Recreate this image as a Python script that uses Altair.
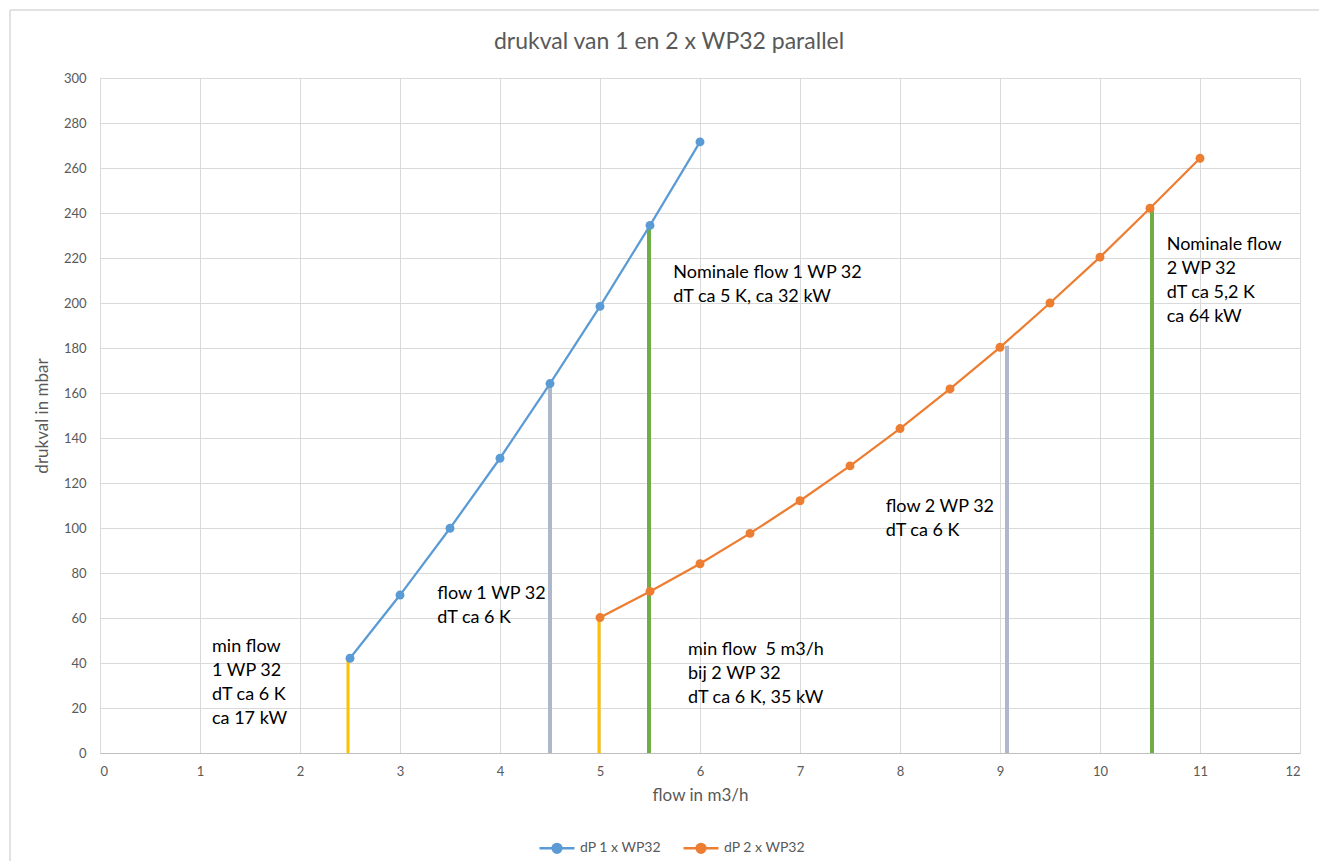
import altair as alt
import pandas as pd

# ---- data ----
flow_1 = [2.5, 3, 3.5, 4, 4.5, 5, 5.5, 6]
dp_1 = [42.1, 70.2, 99.9, 131, 164.2, 198.5, 234.5, 271.6]

flow_2 = [5, 5.5, 6, 6.5, 7, 7.5, 8, 8.5, 9, 9.5, 10, 10.5, 11]
dp_2 = [60.2, 71.8, 84.1, 97.6, 112.1, 127.6, 144.2, 161.8, 180.3, 200, 220.4, 242.1, 264.3]

series_names = ["dP 1 x WP32", "dP 2 x WP32"]

# vertical marker lines (flow, top value)
min_x = [2.48, 4.99]
min_top = [42.1, 60.2]
flowline_x = [4.5, 9.07]
flowline_top = [164.2, 181]
nom_x = [5.49, 10.52]
nom_top = [234.5, 242.1]

# annotations (left x, top of first line, text)
ann_x = [1.12, 3.373, 5.733, 5.88, 7.857, 10.667]
ann_y = [51.2, 74.7, 217.2, 49.8, 113.5, 229.8]
ann_text = [
    "min flow\n1 WP 32\ndT ca 6 K\nca 17 kW",
    "flow 1 WP 32\ndT ca 6 K",
    "Nominale flow 1 WP 32\ndT ca 5 K, ca 32 kW",
    "min flow \u00a05 m3/h\nbij 2 WP 32\ndT ca 6 K, 35 kW",
    "flow 2 WP 32\ndT ca 6 K",
    "Nominale flow\n2 WP 32\ndT ca 5,2 K\nca 64 kW",
]

FONT = "Lato"
GREY_TXT = "#595959"

lines_df = pd.DataFrame(
    {
        "flow": flow_1 + flow_2,
        "dp": dp_1 + dp_2,
        "serie": [series_names[0]] * len(flow_1) + [series_names[1]] * len(flow_2),
    }
)
min_df = pd.DataFrame({"flow": min_x, "top": min_top})
fl_df = pd.DataFrame({"flow": flowline_x, "top": flowline_top})
nom_df = pd.DataFrame({"flow": nom_x, "top": nom_top})
ann_df = pd.DataFrame({"x": ann_x, "y": ann_y, "t": ann_text})

x_scale = alt.Scale(domain=[0, 12], nice=False)
y_scale = alt.Scale(domain=[0, 300], nice=False)

x_axis = alt.Axis(
    title="flow in m3/h",
    values=list(range(0, 13)),
    format="d",
    grid=True,
    gridColor="#d9d9d9",
    ticks=False,
    domainColor="#bfbfbf",
    domainWidth=1,
    labelPadding=12,
    labelFontSize=13,
    labelColor=GREY_TXT,
    labelFont=FONT,
    titleFont=FONT,
    titleFontSize=17,
    titleFontWeight="normal",
    titleColor=GREY_TXT,
    titlePadding=9,
)
y_axis = alt.Axis(
    title="drukval in mbar",
    values=list(range(0, 301, 20)),
    format="d",
    grid=True,
    gridColor="#d9d9d9",
    ticks=False,
    domain=False,
    labelPadding=14,
    labelFontSize=13,
    labelColor=GREY_TXT,
    labelFont=FONT,
    titleFont=FONT,
    titleFontSize=17,
    titleFontWeight="normal",
    titleColor=GREY_TXT,
    titlePadding=12,
)

color_scale = alt.Scale(domain=series_names, range=["#5B9BD5", "#ED7D31"])

legend_symbol = (
    "M-1,0H1"
    "M0.25,0A0.25,0.25,0,1,1,-0.25,0A0.25,0.25,0,1,1,0.25,0"
    "M0.16,0A0.16,0.16,0,1,1,-0.16,0A0.16,0.16,0,1,1,0.16,0"
    "M0.07,0A0.07,0.07,0,1,1,-0.07,0A0.07,0.07,0,1,1,0.07,0"
)

frame_src = alt.Chart(alt.Data(values=[{"a": 1}]))
frame_top = frame_src.mark_rule(color="#d9d9d9", strokeWidth=1.5).encode(
    x=alt.value(-90), x2=alt.value(1219), y=alt.value(-68)
)
frame_left = frame_src.mark_rule(color="#d9d9d9", strokeWidth=1.5).encode(
    x=alt.value(-90), y=alt.value(-68), y2=alt.value(783)
)

base_lines = alt.Chart(lines_df)

line = base_lines.mark_line(strokeWidth=2.25).encode(
    x=alt.X("flow:Q", scale=x_scale, axis=x_axis),
    y=alt.Y("dp:Q", scale=y_scale, axis=y_axis),
    color=alt.Color(
        "serie:N",
        scale=color_scale,
        legend=alt.Legend(
            title=None,
            orient="none",
            direction="horizontal",
            legendX=438,
            legendY=751,
            padding=0,
            symbolType=legend_symbol,
            symbolSize=1225,
            symbolStrokeWidth=2.5,
            labelFont=FONT,
            labelFontSize=14,
            labelColor=GREY_TXT,
            labelOffset=4,
            columnPadding=16,
        ),
    ),
)

points = base_lines.mark_circle(size=80, opacity=1).encode(
    x=alt.X("flow:Q", scale=x_scale),
    y=alt.Y("dp:Q", scale=y_scale),
    color=alt.Color("serie:N", scale=color_scale, legend=None),
)


def vrules(df, colour, width):
    return (
        alt.Chart(df)
        .transform_calculate(base="0")
        .mark_rule(color=colour, strokeWidth=width)
        .encode(
            x=alt.X("flow:Q", scale=x_scale),
            y=alt.Y("base:Q", scale=y_scale),
            y2=alt.Y2("top:Q"),
        )
    )


rules_min = vrules(min_df, "#FFC000", 3)
rules_flow = vrules(fl_df, "#ADB9CA", 4)
rules_nom = vrules(nom_df, "#70AD47", 4)

texts = (
    alt.Chart(ann_df)
    .mark_text(
        align="left",
        baseline="top",
        fontSize=18,
        lineHeight=24,
        font=FONT,
        color="#000000",
        lineBreak="\n",
    )
    .encode(
        x=alt.X("x:Q", scale=x_scale),
        y=alt.Y("y:Q", scale=y_scale),
        text="t:N",
    )
)

chart = (
    alt.layer(frame_top, frame_left, rules_min, rules_flow, rules_nom, line, points, texts)
    .properties(
        width=1200,
        height=675,
        autosize=alt.AutoSizeParams(type="none"),
        padding={"left": 92, "top": 70, "right": 19, "bottom": 108},
        title=alt.TitleParams(
            text="drukval van 1 en 2 x WP32 parallel",
            font=FONT,
            fontSize=23,
            fontWeight="normal",
            color=GREY_TXT,
            anchor="middle",
            dx=-31,
            offset=-45,
        ),
    )
    .configure_view(stroke="transparent")
    .configure(background="white")
)

chart.save("out.html", embed_options={"renderer": "svg", "actions": False})
